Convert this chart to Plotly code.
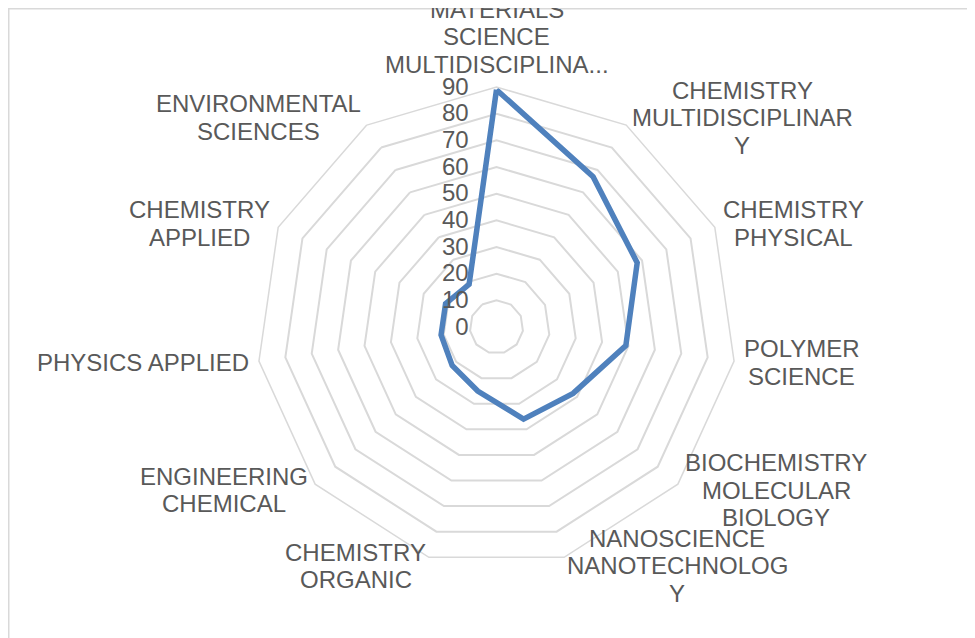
import math
import plotly.graph_objects as go

categories = [
    "MATERIALS<br>SCIENCE<br>MULTIDISCIPLINA...",
    "CHEMISTRY<br>MULTIDISCIPLINAR<br>Y",
    "CHEMISTRY<br>PHYSICAL",
    "POLYMER<br>SCIENCE",
    "BIOCHEMISTRY<br>MOLECULAR<br>BIOLOGY",
    "NANOSCIENCE<br>NANOTECHNOLOG<br>Y",
    "CHEMISTRY<br>ORGANIC",
    "ENGINEERING<br>CHEMICAL",
    "PHYSICS APPLIED",
    "CHEMISTRY<br>APPLIED",
    "ENVIRONMENTAL<br>SCIENCES",
]
values = [89, 67, 58, 49, 38, 36, 25, 22, 21, 21, 19]
radial_ticks = [0, 10, 20, 30, 40, 50, 60, 70, 80, 90]

# page has an 8px body margin; figure sized to fit the window
W, H = 967, 630
cx, cy, R = 488.5, 319.0, 240.0
label_pad = 9
font_size = 24
line_h = 27.5

fig = go.Figure()
fig.add_trace(go.Scatterpolar(
    r=values + values[:1],
    theta=categories + categories[:1],
    mode="lines",
    line=dict(color="#4F81BD", width=5.5),
    showlegend=False,
))

font = dict(family="Liberation Sans, Arial, sans-serif", size=font_size, color="#595959")

# approximate Arial / Liberation Sans advance widths (em) for label text
CW = {"A": .667, "B": .667, "C": .722, "D": .722, "E": .667, "F": .611, "G": .778,
      "H": .722, "I": .278, "J": .5, "K": .667, "L": .556, "M": .833, "N": .722,
      "O": .778, "P": .667, "Q": .778, "R": .722, "S": .667, "T": .611, "U": .722,
      "V": .667, "W": .944, "X": .667, "Y": .667, "Z": .611, " ": .278, ".": .278}


def text_w(s):
    return sum(CW.get(ch, .667) for ch in s) * font_size


# category labels placed just outside each vertex of the outer polygon, centred text
annotations = []
n = len(categories)
for k, label in enumerate(categories):
    lines = label.split("<br>")
    bw = max(text_w(t) for t in lines)
    bh = len(lines) * line_h
    a = math.radians(k * 360.0 / n)
    s, c = math.sin(a), math.cos(a)
    px = cx + (R + label_pad) * s
    py = cy - (R + label_pad) * c
    if abs(s) < 0.1:
        bx = px
        by = py - bh / 2 if c > 0 else py + bh / 2
    else:
        bx = px + bw / 2 if s > 0 else px - bw / 2
        by = py
    for i, t in enumerate(lines):
        ly = by + (i - (len(lines) - 1) / 2) * line_h
        annotations.append(dict(
            text=t, x=bx / W, y=1 - ly / H, xref="paper", yref="paper",
            xanchor="center", yanchor="middle", showarrow=False, font=font,
        ))

fig.update_layout(
    width=W, height=H,
    margin=dict(l=0, r=0, t=0, b=0),
    paper_bgcolor="white",
    plot_bgcolor="white",
    font=font,
    polar=dict(
        domain=dict(x=[(cx - R) / W, (cx + R) / W], y=[1 - (cy + R) / H, 1 - (cy - R) / H]),
        gridshape="linear",
        bgcolor="white",
        angularaxis=dict(
            direction="clockwise", rotation=90,
            showgrid=False, showline=True, linecolor="#d9d9d9", linewidth=1.5,
            ticks="", showticklabels=False,
        ),
        radialaxis=dict(
            range=[0, 90], tickvals=radial_ticks, ticktext=[str(v) for v in radial_ticks],
            showline=False, gridcolor="#d9d9d9", gridwidth=1.5,
            angle=90, side="counterclockwise", tickangle=90,
            ticks="outside", ticklen=19, tickcolor="rgba(0,0,0,0)",
            tickfont=font,
        ),
    ),
    annotations=annotations,
    shapes=[
        dict(type="rect", xref="paper", yref="paper", x0=0, x1=1.05, y0=-0.05, y1=1,
             fillcolor="rgba(0,0,0,0)", line=dict(color="#d9d9d9", width=3), layer="above"),
    ],
)

fig.write_html("out.html")
